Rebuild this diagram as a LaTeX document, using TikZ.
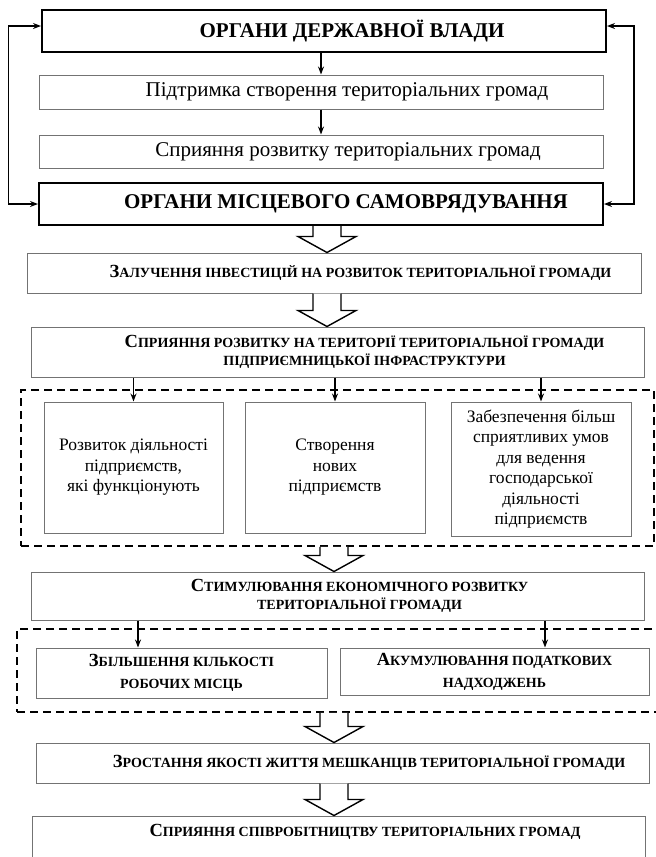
\documentclass[tikz,border=0pt]{standalone}
\usepackage{fontspec}
\setmainfont{Liberation Serif}
\usetikzlibrary{calc,arrows.meta}

\newcommand{\initial}[2]{{\fontsize{18.5}{18}\selectfont #1}#2}
\newcommand{\bigarrow}[3]{%
  \draw[hollow] let \p1=(#1.south), \p2=(#2.north) in
    ({#3pt-14pt},\y1) -- ({#3pt-14pt},{\y2+16pt}) -- ({#3pt-29pt},{\y2+16pt})
    -- (#3pt,\y2) -- ({#3pt+29pt},{\y2+16pt}) -- ({#3pt+14pt},{\y2+16pt})
    -- ({#3pt+14pt},\y1);}

\begin{document}
\begin{tikzpicture}[x=1pt, y=-1pt,
    govbox/.style={draw, line width=2pt, minimum height=42, font=\fontsize{21}{24}\selectfont\bfseries},
    plainbox/.style={draw=black!55, line width=1pt, font=\fontsize{21}{24}\selectfont},
    capbox/.style={draw=black!55, line width=1pt, align=center, font=\fontsize{14}{18}\selectfont\bfseries},
    sidebox/.style={draw=black!55, line width=1pt, align=center, font=\fontsize{17.5}{20.5}\selectfont},
    group/.style={draw, line width=1.6pt, dash pattern=on 8pt off 5pt},
    hollow/.style={draw, fill=white, line width=1.4pt, line join=miter},
    link/.style={-{Stealth[length=8pt,width=6pt]}, line width=1.4pt},
    back/.style={{Stealth[length=8pt,width=6pt]}-{Stealth[length=8pt,width=6pt]}, line width=1.6pt}]
  \useasboundingbox (0,0) rectangle (656,857);

  % top part
  \node[govbox, minimum width=564] (gov) at (324,31) {\hspace*{56pt}ОРГАНИ ДЕРЖАВНОЇ ВЛАДИ};
  \node[plainbox, minimum width=564, minimum height=34] (support) at (321,92) {\hspace*{52pt}Підтримка створення територіальних громад};
  \node[plainbox, minimum width=564, minimum height=33] (promote) at (321,151.5) {\hspace*{54pt}Сприяння розвитку територіальних громад};
  \node[govbox, minimum width=564] (local) at (321,204) {\hspace*{50pt}ОРГАНИ МІСЦЕВОГО САМОВРЯДУВАННЯ};

  \draw[link] (gov.south -| support.north) -- (support.north);
  \draw[link] (support.south) -- (promote.north);
  \draw[back] ([yshift=5pt]gov.west) -- ++(-32.5,0) |- (local.west);
  \draw[back] ([yshift=5pt]gov.east) -- ++(27,0) |- (local.east);

  % investments and infrastructure
  \node[capbox, minimum width=614, minimum height=40] (invest) at (334,273) {\hspace*{53pt}\initial{З}{АЛУЧЕННЯ ІНВЕСТИЦІЙ НА РОЗВИТОК ТЕРИТОРІАЛЬНОЇ ГРОМАДИ}};
  \node[capbox, minimum width=613, minimum height=50] (infra) at (337.5,352) {\hspace*{54pt}\initial{С}{ПРИЯННЯ РОЗВИТКУ НА ТЕРИТОРІЇ ТЕРИТОРІАЛЬНОЇ ГРОМАДИ}\\\hspace*{54pt}ПІДПРИЄМНИЦЬКОЇ ІНФРАСТРУКТУРИ};

  \node[group, minimum width=633, minimum height=156] (firms) at (337.5,468) {};
  \node[sidebox, minimum width=179, minimum height=131] (existing) at (133.5,467.5) {Розвиток діяльності\\підприємств,\\які функціонують};
  \node[sidebox, minimum width=180, minimum height=131] (newent) at (335,467.5) {Створення\\нових\\підприємств};
  \node[sidebox, minimum width=180, minimum height=134] (favour) at (541,469) {Забезпечення більш\\сприятливих умов\\для ведення\\господарської\\діяльності\\підприємств};

  \draw[link] (infra.south -| existing.north) -- (existing.north);
  \draw[link] (infra.south -| newent.north) -- (newent.north);
  \draw[link] (infra.south -| favour.north) -- (favour.north);

  % economic part
  \node[capbox, minimum width=613, minimum height=48] (stimul) at (337.5,596) {\hspace*{44pt}\initial{С}{ТИМУЛЮВАННЯ ЕКОНОМІЧНОГО РОЗВИТКУ}\\\hspace*{44pt}ТЕРИТОРІАЛЬНОЇ ГРОМАДИ};
  \node[group, minimum width=653, minimum height=83] (gains) at (343.5,670.5) {};
  \node[capbox, minimum width=291, minimum height=50, font=\fontsize{14}{22}\selectfont\bfseries] (jobs) at (181.5,673) {\initial{З}{БІЛЬШЕННЯ КІЛЬКОСТІ}\\РОБОЧИХ МІСЦЬ};
  \node[capbox, minimum width=309, minimum height=47, font=\fontsize{14}{22}\selectfont\bfseries] (taxes) at (494.5,671.5) {\initial{А}{КУМУЛЮВАННЯ ПОДАТКОВИХ}\\НАДХОДЖЕНЬ};

  \draw[link] ($(stimul.south -| jobs.north)+(-43.5,0)$) -- ($(jobs.north)+(-43.5,0)$);
  \draw[link] ($(stimul.south -| taxes.north)+(50.5,0)$) -- ($(taxes.north)+(50.5,0)$);

  \node[capbox, minimum width=613, minimum height=40] (quality) at (342.5,763) {\hspace*{53pt}\initial{З}{РОСТАННЯ ЯКОСТІ ЖИТТЯ МЕШКАНЦІВ ТЕРИТОРІАЛЬНОЇ ГРОМАДИ}};
  \node[capbox, minimum width=613, minimum height=64, text depth=36] (coop) at (338.5,848) {\hspace*{53pt}\initial{С}{ПРИЯННЯ СПІВРОБІТНИЦТВУ ТЕРИТОРІАЛЬНИХ ГРОМАД}};

  % big hollow arrows
  \bigarrow{local}{invest}{327}
  \bigarrow{invest}{infra}{327}
  \bigarrow{firms}{stimul}{334}
  \bigarrow{gains}{quality}{334}
  \bigarrow{quality}{coop}{334}
\end{tikzpicture}
\end{document}
